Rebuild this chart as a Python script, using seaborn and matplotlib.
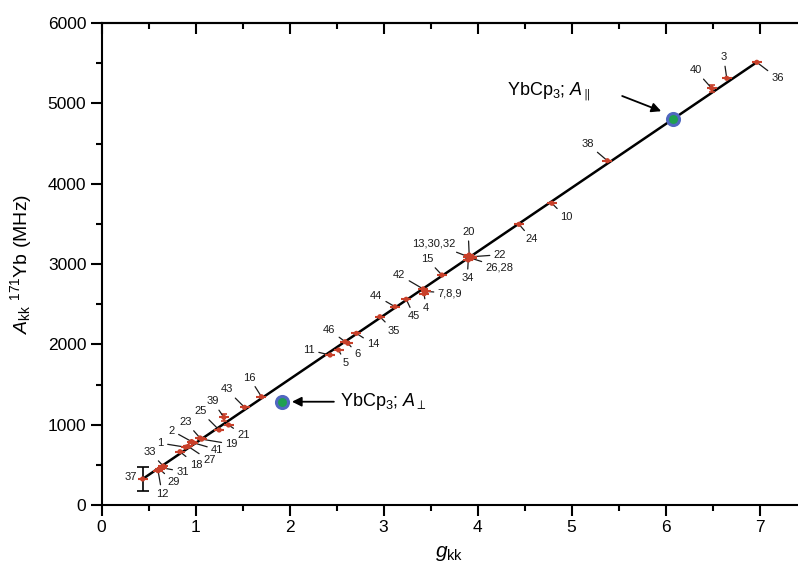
import numpy as np
import pandas as pd
import matplotlib
matplotlib.use("Agg")
import matplotlib.pyplot as plt
import seaborn as sns
from matplotlib.ticker import MultipleLocator

# ---------------- data ----------------
labels = ['37', '33', '31', '29', '12', '18', '1', '27', '2', '41', '23', '19',
          '25', '21', '39', '43', '16', '11', '5', '46', '6', '14', '35', '44',
          '45', '42', '4', '7,8,9', '15', '13,30,32', '20', '22', '26,28', '34',
          '24', '10', '38', '40', '3', '36']
g_kk = [0.436, 0.655, 0.638, 0.62, 0.60, 0.833, 0.893, 0.92, 0.957, 0.975,
        1.046, 1.064, 1.25, 1.35, 1.30, 1.52, 1.70, 2.43, 2.52, 2.59, 2.62,
        2.71, 2.96, 3.12, 3.24, 3.42, 3.43, 3.45, 3.62, 3.90, 3.91, 3.94,
        3.935, 3.90, 4.44, 4.79, 5.38, 6.49, 6.65, 6.97]
A_kk = [324, 485, 465, 444, 427, 664, 720, 730, 790, 775, 835, 820, 934, 996,
        1092, 1216, 1348, 1867, 1930, 2033, 2013, 2137, 2344, 2469, 2561, 2690,
        2630, 2660, 2863, 3091, 3112, 3091, 3071, 3050, 3494, 3756, 4286, 5187,
        5312, 5511]
A_err = [155, 0, 0, 0, 0, 0, 0, 0, 0, 0, 0, 0, 0, 0, 45, 0, 0, 0, 0, 0, 0, 0,
         0, 0, 0, 0, 0, 0, 0, 0, 0, 0, 0, 0, 0, 0, 0, 40, 0, 0]

fit_slope = 794.0
fit_intercept = -22.0

ybcp3_g = [1.915, 6.08]
ybcp3_A = [1286, 4805]
ybcp3_names = [r'YbCp$_3$; $A_{\perp}$', r'YbCp$_3$; $A_{\parallel}$']

# label offsets (pixels) for point numbers - layout only
label_offsets = [(-11, 2), (-13, 14), (21, -4), (14, -13), (4, -23), (16, -13),
                 (-25, 4), (21, -14), (-20, 11), (24, -7), (-14, 16), (30, -5),
                 (-19, 19), (15, -10), (-11, 16), (-18, 18), (-12, 19), (-21, 5),
                 (7, -13), (-16, 12), (10, -11), (17, -11), (14, -14), (-19, 11),
                 (8, -17), (-24, 14), (2, -14), (24, -2), (-15, 16), (-34, 13),
                 (-1, 23), (28, 2), (28, -9), (-1, -18), (13, -15), (14, -14),
                 (-20, 17), (-16, 18), (-3, 21), (21, -16)]

df = pd.DataFrame({'label': labels, 'g': g_kk, 'A': A_kk, 'err': A_err})

# ---------------- style ----------------
sns.set_style('ticks')
plt.rcParams['font.family'] = ['Liberation Sans', 'DejaVu Sans']
plt.rcParams['mathtext.fontset'] = 'custom'
plt.rcParams['mathtext.rm'] = 'Liberation Sans'
plt.rcParams['mathtext.it'] = 'Liberation Sans:italic'
plt.rcParams['mathtext.bf'] = 'Liberation Sans:bold'
plt.rcParams['mathtext.fallback'] = 'stixsans'
for k in ['text.color', 'axes.labelcolor', 'xtick.color', 'ytick.color', 'axes.edgecolor']:
    plt.rcParams[k] = 'black'

fig = plt.figure(figsize=(7.98, 5.67), dpi=100)
ax = fig.add_axes([0.1274, 0.1093, 0.8713, 0.8501])

# fit line
gx = [min(g_kk), max(g_kk)]
sns.lineplot(x=gx, y=[fit_slope * v + fit_intercept for v in gx], ax=ax,
             color='black', lw=1.8, zorder=2)

# data points
red = '#c8402a'
sns.scatterplot(data=df, x='g', y='A', ax=ax, color=red, s=14,
                edgecolor='none', zorder=4, legend=False)
ax.plot(df['g'], df['A'], ls='none', marker='_', ms=7, mew=1.5, color=red, zorder=4)

# error bars
e = df[df['err'] > 0]
for _, r in e.iterrows():
    col = 'black' if r['label'] == '37' else red
    ax.errorbar(r['g'], r['A'], yerr=r['err'], fmt='none', ecolor=col,
                elinewidth=1.2, capsize=4 if col == 'black' else 2.5,
                capthick=1.2, zorder=3)

# point labels
for (lab, gv, av), (dx, dy) in zip(zip(labels, g_kk, A_kk), label_offsets):
    if lab == '37':
        ax.annotate(lab, (gv, av), xytext=(dx - 1, dy), textcoords='offset pixels',
                    ha='center', va='center', fontsize=8, color='#1a1a1a')
    else:
        ax.annotate(lab, (gv, av), xytext=(dx, dy), textcoords='offset pixels',
                    ha='center', va='center', fontsize=8, color='#1a1a1a',
                    arrowprops=dict(arrowstyle='-', color='#1a1a1a', lw=0.9,
                                    shrinkA=0.5, shrinkB=1.0))

# YbCp3 points
ax.scatter(ybcp3_g, ybcp3_A, s=75, facecolor='#1fa050', edgecolor='#5068c0',
           linewidth=2.2, zorder=5)

# A_perp annotation
ax.annotate('', xy=(ybcp3_g[0] + 0.08, ybcp3_A[0]), xytext=(2.50, ybcp3_A[0]),
            arrowprops=dict(arrowstyle='-|>', color='black', lw=1.3,
                            mutation_scale=14))
ax.text(2.535, ybcp3_A[0], ybcp3_names[0], fontsize=13, ha='left', va='center')

# A_par annotation
ax.annotate('', xy=(5.98, 4890), xytext=(5.51, 5104),
            arrowprops=dict(arrowstyle='-|>', color='black', lw=1.3,
                            mutation_scale=14))
ax.text(5.20, 5150, ybcp3_names[1], fontsize=13, ha='right', va='center')

# axes
ax.set_xlim(0, 7.397)
ax.set_ylim(0, 6000)
ax.xaxis.set_major_locator(MultipleLocator(1))
ax.xaxis.set_minor_locator(MultipleLocator(0.5))
ax.yaxis.set_major_locator(MultipleLocator(1000))
ax.yaxis.set_minor_locator(MultipleLocator(500))
ax.tick_params(which='major', direction='out', length=8, width=1.5,
               labelsize=12.5, pad=3, colors='black')
ax.tick_params(which='minor', direction='out', length=4.5, width=1.5)
ax.tick_params(top=False, right=False)

top = ax.secondary_xaxis('top')
top.xaxis.set_major_locator(MultipleLocator(1))
top.xaxis.set_minor_locator(MultipleLocator(0.5))
top.tick_params(which='major', direction='in', length=8, width=1.5, labeltop=False)
top.tick_params(which='minor', direction='in', length=4.5, width=1.5)
top.spines['top'].set_linewidth(1.5)

for s in ['left', 'bottom', 'top']:
    ax.spines[s].set_linewidth(1.5)
    ax.spines[s].set_visible(True)
ax.spines['right'].set_visible(False)

ax.set_xlabel(r'$g_{\mathrm{kk}}$', fontsize=15, labelpad=6)
ax.set_ylabel(r'$A_{\mathrm{kk}}$ $^{171}$Yb (MHz)', fontsize=14, labelpad=10)

fig.savefig('out.png', dpi=100)
